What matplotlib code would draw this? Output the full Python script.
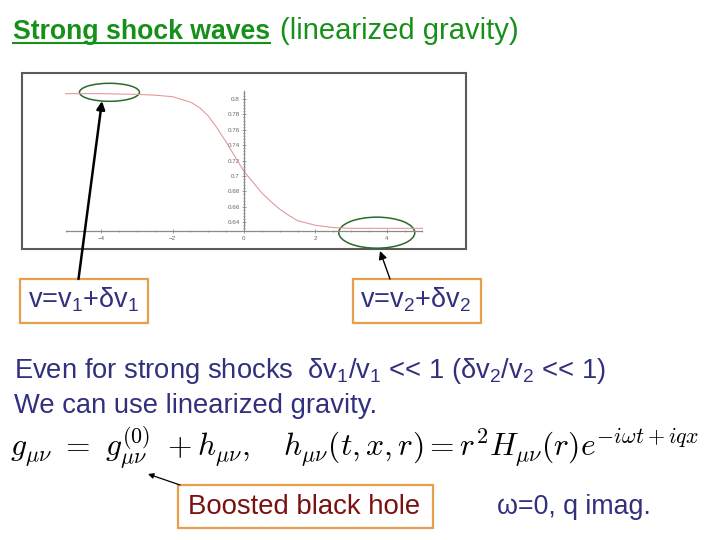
import numpy as np
import matplotlib
matplotlib.use("Agg")
import matplotlib.pyplot as plt
from matplotlib.patches import Ellipse, Rectangle, FancyArrowPatch
from matplotlib.ticker import FixedLocator, FixedFormatter

# ---- data ----
x_vals = [-5, -4, -3, -2.5, -2, -1.5, -1.25, -1, -0.75, -0.5, -0.25, 0,
          0.25, 0.5, 0.75, 1, 1.25, 1.5, 2, 2.5, 3, 4, 5]
v_vals = [0.807, 0.807, 0.806, 0.805, 0.803, 0.796, 0.789, 0.778, 0.762, 0.744, 0.725, 0.706,
          0.692, 0.678, 0.667, 0.657, 0.649, 0.642, 0.636, 0.633, 0.632, 0.632, 0.632]
x_ticks = [-4, -2, 0, 2, 4]
y_ticks = [0.64, 0.66, 0.68, 0.70, 0.72, 0.74, 0.76, 0.78, 0.80]
y_tick_labels = ['0.64', '0.66', '0.68', '0.7', '0.72', '0.74', '0.76', '0.78', '0.8']

NAVY = '#30307e'
ORANGE = '#e6a04c'
GREEN_TITLE = '#17901a'
GREEN_ELL = '#2a6a2a'
DARKRED = '#7a1010'

plt.rcParams['font.family'] = ['Liberation Sans', 'DejaVu Sans']
plt.rcParams['mathtext.fontset'] = 'custom'
plt.rcParams['mathtext.rm'] = 'Liberation Sans'

W, H = 720, 540
fig = plt.figure(figsize=(7.2, 5.4), dpi=100)


def px_axes(l, t, r, b):
    """axes rect from pixel box (top-left origin)"""
    return [l / W, 1 - b / H, (r - l) / W, (b - t) / H]


############################# embedded plot ############################################################################
ax = fig.add_axes(px_axes(22, 73.3, 466, 249.3))
ax.plot(x_vals, v_vals, color='#e39a9a', lw=0.8)
ax.set_xlim(-6.22, 6.22)
ax.set_ylim(0.6048, 0.8334)
for side in ['top', 'right']:
    ax.spines[side].set_visible(False)
ax.spines['left'].set_position(('data', 0))
ax.spines['bottom'].set_position(('data', 0.628))
ax.spines['left'].set_bounds(0.628, 0.810)
ax.spines['bottom'].set_bounds(-5, 5)
for side in ['left', 'bottom']:
    ax.spines[side].set_color('#8a8a8a')
    ax.spines[side].set_linewidth(0.9)
ax.xaxis.set_major_locator(FixedLocator(x_ticks))
ax.xaxis.set_minor_locator(FixedLocator(np.arange(-5, 5.01, 0.5)))
ax.yaxis.set_major_locator(FixedLocator(y_ticks))
ax.yaxis.set_major_formatter(FixedFormatter(y_tick_labels))
ax.yaxis.set_minor_locator(FixedLocator(np.arange(0.632, 0.8101, 0.004)))
ax.tick_params(which='major', direction='inout', length=3, width=0.6, colors='#8a8a8a',
               labelsize=4.5, labelcolor='#666666', pad=1.5)
ax.tick_params(which='minor', direction='inout', length=1.8, width=0.5, colors='#8a8a8a')
ax.add_patch(Rectangle((0, 0), 1, 1, transform=ax.transAxes, fill=False,
                       ec='#5a5a5a', lw=1.5, clip_on=False))
# green ellipses marking the two asymptotic states
ax.add_patch(Ellipse((-3.77, 0.8087), 1.68, 0.0234, fill=False, ec=GREEN_ELL, lw=1.1))
ax.add_patch(Ellipse((3.72, 0.6264), 2.13, 0.0403, fill=False, ec=GREEN_ELL, lw=1.1, clip_on=False))

############################# overlay (pixel coords) ###################################################################
ov = fig.add_axes([0, 0, 1, 1], facecolor='none')
ov.set_xlim(0, W)
ov.set_ylim(H, 0)
ov.axis('off')

# title
t1 = ov.text(13, 39.3, 'Strong shock waves', fontsize=19.2, fontweight='bold',
             color=GREEN_TITLE, va='baseline')
renderer = fig.canvas.get_renderer()
bb = t1.get_window_extent(renderer=renderer)
x_end = bb.x1 * W / fig.bbox.width
ov.plot([13, x_end], [42.7, 42.7], color=GREEN_TITLE, lw=1.5)
ov.text(x_end + 10, 39.3, '(linearized gravity)', fontsize=21, color=GREEN_TITLE, va='baseline')

# boxes with velocities
box_kw = dict(fill=False, ec=ORANGE, lw=1.6)
ov.add_patch(Rectangle((20, 279), 128, 44, **box_kw))
ov.add_patch(Rectangle((353, 279), 128, 44, **box_kw))
ov.text(28, 307, r'v=v$_\mathregular{1}$+δv$_\mathregular{1}$', fontsize=19.5, color=NAVY, va='baseline')
ov.text(360, 307, r'v=v$_\mathregular{2}$+δv$_\mathregular{2}$', fontsize=19.5, color=NAVY, va='baseline')

arrow_kw = dict(arrowstyle='-|>', mutation_scale=12, color='black', shrinkA=0, shrinkB=0)
ov.add_patch(FancyArrowPatch((78.5, 279), (102, 101), lw=1.8, **arrow_kw))
ov.add_patch(FancyArrowPatch((390, 279), (380, 251), lw=1.0, **arrow_kw))

# body text
ov.text(14, 378.3,
        r'Even for strong shocks  δv$_\mathregular{1}$/v$_\mathregular{1}$ << 1 '
        r'(δv$_\mathregular{2}$/v$_\mathregular{2}$ << 1)',
        fontsize=19.7, color=NAVY, va='baseline')
ov.text(14, 413.3, 'We can use linearized gravity.', fontsize=19.7, color=NAVY, va='baseline')

# equation
ov.text(10, 457,
        r'$g_{\mu\nu}\ =\ g^{(0)}_{\mu\nu}\ + h_{\mu\nu},\quad h_{\mu\nu}(t,x,r) = r^2 H_{\mu\nu}(r)e^{-i\omega t+iqx}$',
        fontsize=22.7, color='black', va='baseline', math_fontfamily='cm')

# boosted black hole box
ov.add_patch(Rectangle((178, 485), 255, 43, **box_kw))
ov.text(188, 514, 'Boosted black hole', fontsize=19.8, color=DARKRED, va='baseline')
ov.add_patch(FancyArrowPatch((180, 485), (148, 474), lw=0.9,
                             arrowstyle='-|>', mutation_scale=8, color='black', shrinkA=0, shrinkB=0))
ov.text(497, 514, 'ω=0, q imag.', fontsize=19.3, color=NAVY, va='baseline')

fig.savefig('out.png', dpi=100)
